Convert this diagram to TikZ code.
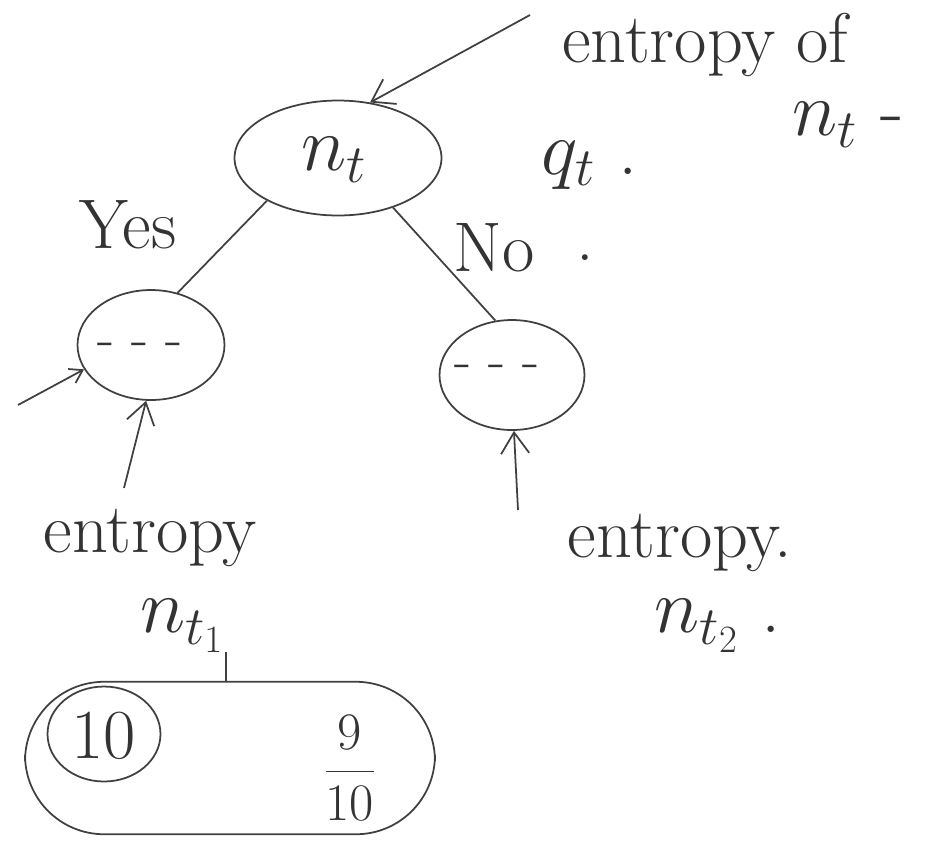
\RequirePackage{fix-cm}
\documentclass[tikz,border=0pt]{standalone}
\usetikzlibrary{arrows.meta,shapes.geometric}
\begin{document}
\begin{tikzpicture}[x=0.02cm,y=-0.02cm,
  ink/.style={draw=black!75,line width=1pt},
  hand/.style={font=\fontsize{40}{46}\selectfont,text=black!80,inner sep=0pt},
  mhand/.style={font=\fontsize{44}{50}\selectfont,text=black!80,inner sep=0pt},
  small/.style={font=\fontsize{32}{38}\selectfont,text=black!80,inner sep=0pt},
  tree/.style={ink,ellipse,inner sep=0pt},
  arr/.style={ink,-{Straight Barb[length=12pt,width=16pt]}},
  arrs/.style={ink,-{Straight Barb[length=7pt,width=9pt]}}]
\useasboundingbox (0,0) rectangle (930,850);
% tree nodes
\node[tree,minimum width=4.14cm,minimum height=2.3cm] (root) at (338,158) {};
\node[mhand] (rootlbl) at (334,160) {$n_t$};
\node[tree,minimum width=2.94cm,minimum height=2.2cm] (c1) at (151,345) {};
\node[small] at (140,350) {- - -};
\node[tree,minimum width=2.9cm,minimum height=2.2cm] (c2) at (512,375) {};
\node[small] at (497,372) {- - -};
% edges
\draw[ink] (root.211) -- (c1.63);
\draw[ink] (root.318) -- (c2.107);
\node[hand] (yes) at (128,225) {Yes};
\node[hand] (no) at (494,248) {No};
\node[hand] (dotno) at (585,258) {.};
% entropy of n_t
\node[hand,anchor=west] (ent0) at (562,45) {entropy of};
\node[mhand] (ent0n) at (848,125) {$n_t$ -};
\node[mhand] (qt) at (590,165) {$q_t$ .};
\path (ent0.west) ++(-32,-30) coordinate (a0);
\draw[arr] (a0) -- (root.60);
% left child arrows
\coordinate (sa) at (18,405);
\draw[arrs] (sa) -- (c1.200);
\coordinate (b1) at (124,488);
\draw[arr] (b1) -- (c1.265);
\node[hand] (ent1) at (150,538) {entropy};
\node[mhand] (nt1) at (182,626) {$n_{t_1}$};
% right child arrow
\coordinate (b2) at (518,510);
\draw[arr] (b2) -- (c2.272);
\node[hand] (ent2) at (680,543) {entropy.};
\node[mhand] (nt2) at (718,626) {$n_{t_2}$ .};
% box
\node[ink,rounded corners=45pt,minimum width=8.2cm,minimum height=3.05cm] (box) at (230,758) {};
\node[ink,ellipse,minimum width=2.26cm,minimum height=1.9cm] (ten) at (104,734) {};
\node[hand] at (104,736) {10};
\node[font=\fontsize{30}{34}\selectfont,text=black!80,inner sep=0pt] (frac) at (350,768) {$\displaystyle\frac{9}{10}$};
\coordinate (tick) at (226,652);
\draw[ink] (tick) -- (tick|-box.north);
\end{tikzpicture}
\end{document}
